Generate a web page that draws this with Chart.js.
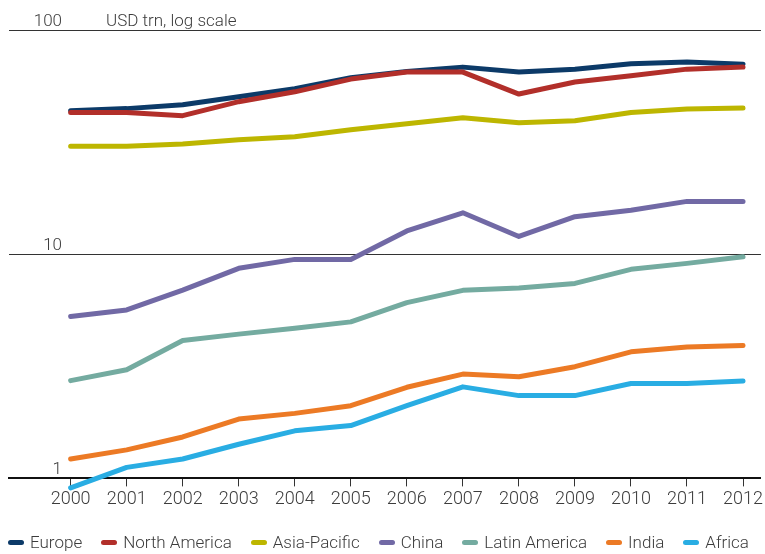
<!DOCTYPE html>
<html>
<head>
<meta charset="utf-8">
<script src="https://cdn.jsdelivr.net/npm/chart.js@4"></script>
<style>
  html, body { margin: 0; padding: 0; background: #fff; }
  #wrap { position: relative; width: 765px; height: 554px; }
  #legend {
    position: absolute; left: 8px; top: 532px; width: 741px;
    display: flex; align-items: center; justify-content: space-between;
    font-family: Roboto, "Liberation Sans", sans-serif; font-weight: 300;
    font-size: 17px; color: #3c3c3c; white-space: nowrap;
  }
  #legend .item { display: flex; align-items: center; }
  #legend .mark { width: 16px; height: 5px; border-radius: 3px; margin-right: 6px; }
</style>
</head>
<body>
<div id="wrap">
  <canvas id="grafico" width="765" height="554"></canvas>
  <div id="legend"></div>
</div>
<script>
// years and values (USD trn)
const years = [2000, 2001, 2002, 2003, 2004, 2005, 2006, 2007, 2008, 2009, 2010, 2011, 2012];
const europe = [43.6, 44.6, 46.4, 50.4, 54.7, 61.2, 65.3, 68.3, 64.9, 66.9, 70.7, 71.9, 70.4];
const northAmerica = [42.9, 42.9, 41.5, 47.9, 53.0, 60.4, 64.9, 64.9, 51.8, 58.6, 62.5, 66.9, 68.3];
const asiaPacific = [30.3, 30.3, 31.0, 32.4, 33.4, 35.9, 38.2, 40.6, 38.6, 39.4, 42.9, 44.4, 44.9];
const china = [5.27, 5.64, 6.92, 8.65, 9.48, 9.48, 12.7, 15.3, 12.0, 14.7, 15.7, 17.2, 17.2];
const latinAmerica = [2.73, 3.05, 4.12, 4.40, 4.67, 4.99, 6.08, 6.90, 7.07, 7.41, 8.56, 9.10, 9.74];
const india = [1.22, 1.34, 1.53, 1.84, 1.95, 2.11, 2.55, 2.92, 2.84, 3.15, 3.67, 3.86, 3.92];
const africa = [0.907, 1.12, 1.22, 1.42, 1.63, 1.72, 2.11, 2.56, 2.34, 2.34, 2.65, 2.65, 2.72];
const yTicks = [1, 10, 100];
const titleText = 'USD trn, log scale';

const fontFamily = 'Roboto, "Liberation Sans", sans-serif';
const textColor = '#3c3c3c';

const series = [
    { label: 'Europe', data: europe, color: '#0c3a68', order: 1 },
    { label: 'North America', data: northAmerica, color: '#b22f2a', order: 0 },
    { label: 'Asia-Pacific', data: asiaPacific, color: '#bdb600', order: 0 },
    { label: 'China', data: china, color: '#7169a5', order: 0 },
    { label: 'Latin America', data: latinAmerica, color: '#74aba0', order: 0 },
    { label: 'India', data: india, color: '#ec7a25', order: 0 },
    { label: 'Africa', data: africa, color: '#29ade3', order: 0 }
];

// labels above the gridlines + unit title
const yLabels = {
    id: 'yLabels',
    afterDraw(chart) {
        const ctx = chart.ctx;
        const y = chart.scales.y;
        ctx.save();
        ctx.font = '300 17px ' + fontFamily;
        ctx.fillStyle = textColor;
        ctx.textBaseline = 'alphabetic';
        ctx.textAlign = 'right';
        yTicks.forEach(v => {
            ctx.fillText(String(v), 62, y.getPixelForValue(v) - 4);
        });
        ctx.textAlign = 'left';
        ctx.fillText(titleText, 106, y.getPixelForValue(100) - 4);
        ctx.restore();
    }
};

const ctx = document.getElementById('grafico').getContext('2d');
new Chart(ctx, {
    type: 'line',
    data: {
        datasets: series.map(s => ({
            label: s.label,
            data: s.data.map((v, i) => ({ x: years[i], y: v })),
            borderColor: s.color,
            backgroundColor: s.color,
            borderWidth: 5,
            borderCapStyle: 'round',
            borderJoinStyle: 'round',
            pointRadius: 0,
            tension: 0,
            fill: false,
            clip: false,
            order: s.order
        }))
    },
    options: {
        responsive: false,
        animation: false,
        layout: { padding: { left: 9, right: 0, top: 30, bottom: 42 } },
        plugins: {
            legend: { display: false },
            tooltip: { enabled: false }
        },
        scales: {
            x: {
                type: 'linear',
                min: 1998.9,
                max: 2012.32,
                afterBuildTicks: axis => { axis.ticks = years.map(v => ({ value: v })); },
                grid: {
                    drawOnChartArea: false,
                    drawTicks: true,
                    tickLength: 8,
                    color: '#333'
                },
                border: { display: true, color: '#111', width: 2 },
                ticks: {
                    color: textColor,
                    font: { family: fontFamily, size: 18, weight: '300' },
                    padding: 2,
                    maxRotation: 0,
                    autoSkip: false,
                    callback: v => String(v)
                }
            },
            y: {
                type: 'logarithmic',
                min: 1,
                max: 100,
                afterBuildTicks: axis => { axis.ticks = yTicks.map(v => ({ value: v })); },
                grid: { color: '#333', lineWidth: 1, drawTicks: false },
                border: { display: false },
                ticks: { display: false }
            }
        }
    },
    plugins: [yLabels]
});

// legend
const legend = document.getElementById('legend');
series.forEach(s => {
    const item = document.createElement('div');
    item.className = 'item';
    const mark = document.createElement('span');
    mark.className = 'mark';
    mark.style.background = s.color;
    const txt = document.createElement('span');
    txt.textContent = s.label;
    item.appendChild(mark);
    item.appendChild(txt);
    legend.appendChild(item);
});
</script>
</body>
</html>
